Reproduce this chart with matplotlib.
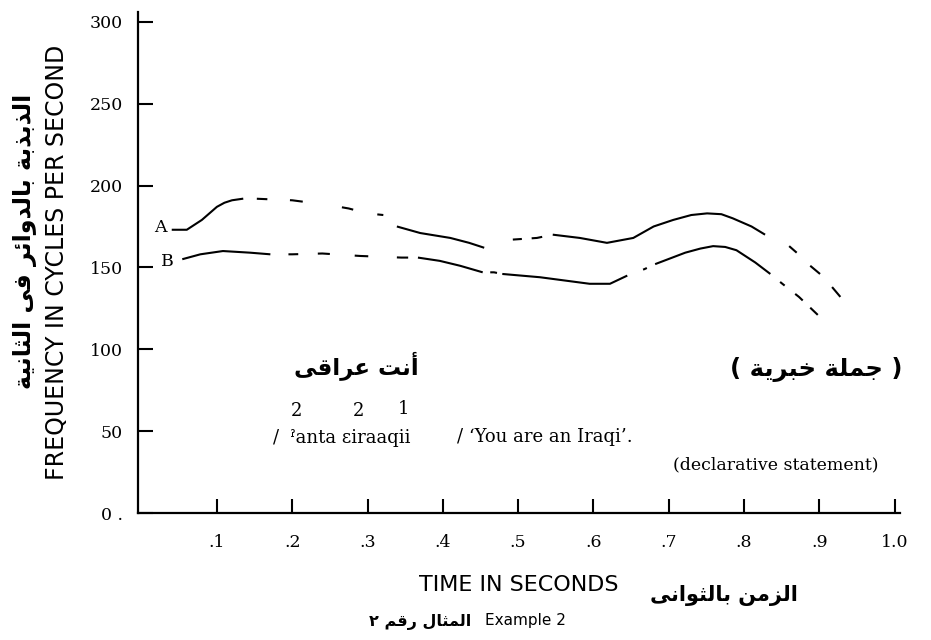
import numpy as np
import matplotlib
matplotlib.use("Agg")
import matplotlib.pyplot as plt

# ---- data ----
# curve A (upper)
a_time = [0.040, 0.060, 0.080, 0.100, 0.110, 0.120, 0.135, 0.150, 0.200, 0.250,
          0.275, 0.300, 0.321, 0.339, 0.370, 0.410, 0.435, 0.455, 0.493, 0.525,
          0.546, 0.582, 0.618, 0.653, 0.680, 0.706, 0.730, 0.751, 0.770, 0.785,
          0.810, 0.828, 0.860, 0.870, 0.888, 0.901, 0.917, 0.928]
a_freq = [173, 173, 179, 187, 189.5, 191, 192, 192, 191, 188,
          186, 183, 182, 175, 171, 168, 165, 162, 167, 168,
          170, 168, 165, 168, 175, 179, 182, 183, 182.5, 180,
          175, 170, 163, 159, 151, 146, 138, 132]
# stretches of A where the pen touches the paper
a_ink = [(0.040, 0.135), (0.153, 0.167), (0.197, 0.214), (0.266, 0.281),
         (0.313, 0.321), (0.339, 0.455), (0.493, 0.505), (0.518, 0.532),
         (0.546, 0.828), (0.860, 0.870), (0.888, 0.901), (0.917, 0.928)]

# curve B (lower)
b_time = [0.054, 0.078, 0.108, 0.144, 0.171, 0.200, 0.240, 0.290, 0.345, 0.367,
          0.396, 0.423, 0.453, 0.468, 0.479, 0.529, 0.595, 0.622, 0.645, 0.668,
          0.682, 0.722, 0.742, 0.759, 0.775, 0.790, 0.815, 0.835, 0.851, 0.873,
          0.898]
b_freq = [155, 158, 160, 159, 158, 158, 158.5, 157, 156, 156,
          154, 151, 147, 147, 146, 144, 140, 140, 145, 149,
          152, 159, 161.5, 163, 162.5, 160.5, 153, 146, 140, 132,
          121]
b_ink = [(0.054, 0.171), (0.195, 0.208), (0.234, 0.250), (0.283, 0.301),
         (0.339, 0.354), (0.367, 0.453), (0.463, 0.472), (0.479, 0.645),
         (0.666, 0.671), (0.682, 0.835), (0.848, 0.854), (0.868, 0.878),
         (0.888, 0.898)]

y_ticks = [0, 50, 100, 150, 200, 250, 300]
y_labels = ["0 .", "50", "100", "150", "200", "250", "300"]
x_ticks = [0.1, 0.2, 0.3, 0.4, 0.5, 0.6, 0.7, 0.8, 0.9, 1.0]
x_labels = [".1", ".2", ".3", ".4", ".5", ".6", ".7", ".8", ".9", "1.0"]

# ---- arabic: matplotlib does no shaping, so pick contextual forms by hand ----
DUAL = set("بتثجحخسشصضطظعغفقكلمنهيىئ")
RIGHT = set("اأإآدذرزوؤة")
BASE = {"ا": 0xFE8D, "أ": 0xFE83, "ب": 0xFE8F, "ة": 0xFE93, "ت": 0xFE95,
        "ث": 0xFE99, "ج": 0xFE9D, "خ": 0xFEA5, "د": 0xFEA9, "ذ": 0xFEAB,
        "ر": 0xFEAD, "ز": 0xFEAF, "ع": 0xFEC9, "ف": 0xFED1, "ق": 0xFED5,
        "ل": 0xFEDD, "م": 0xFEE1, "ن": 0xFEE5, "و": 0xFEED, "ى": 0xFEEF,
        "ي": 0xFEF1, "ئ": 0xFE89}


def shape(s):
    out = []
    for i, ch in enumerate(s):
        if ch not in BASE:
            out.append(ch)
            continue
        prev = s[i - 1] if i > 0 else ""
        nxt = s[i + 1] if i + 1 < len(s) else ""
        jp = prev in DUAL
        jn = ch in DUAL and (nxt in DUAL or nxt in RIGHT)
        off = (1 if jp else 0) + (2 if jn else 0)
        out.append(chr(BASE[ch] + off))
    return "".join(reversed(out))


ar_sentence = "أنت عراقى"
ar_type = "جملة خبرية"
ar_ylabel = "الذبذبة بالدوائر فى الثانية"
ar_xlabel = "الزمن بالثوانى"
ar_caption = "المثال رقم ٢"

W, H = 931, 640
fig = plt.figure(figsize=(W / 100, H / 100), dpi=100)
ax = fig.add_axes([138 / W, 1 - 513 / H, (900 - 138) / W, (513 - 12) / H])
ax.set_xlim(-0.0048, 1.0072)
ax.set_ylim(0, 306)
for s in ["top", "right"]:
    ax.spines[s].set_visible(False)
for s in ["left", "bottom"]:
    ax.spines[s].set_linewidth(1.6)

serif = ["DejaVu Serif"]
sans = ["DejaVu Sans"]

ax.set_yticks(y_ticks)
ax.set_yticklabels(y_labels, fontfamily=serif, fontsize=12.5)
ax.set_xticks(x_ticks)
ax.set_xticklabels(x_labels, fontfamily=serif, fontsize=12.5)
ax.tick_params(axis="y", direction="in", length=11, width=1.5, pad=11)
ax.tick_params(axis="x", direction="in", length=10, width=1.5, pad=15)


def draw_curve(t, v, pieces):
    t = np.asarray(t, float)
    v = np.asarray(v, float)
    for t0, t1 in pieces:
        inner = (t > t0) & (t < t1)
        xs = np.concatenate([[t0], t[inner], [t1]])
        ys = np.concatenate([[np.interp(t0, t, v)], v[inner], [np.interp(t1, t, v)]])
        ax.plot(xs, ys, color="black", lw=1.5, solid_capstyle="butt",
                solid_joinstyle="round", clip_on=False)


draw_curve(a_time, a_freq, a_ink)
draw_curve(b_time, b_freq, b_ink)

ax.text(0.0244, 174.5, "A", fontfamily=serif, fontsize=12.5, ha="center", va="center")
ax.text(0.0338, 153.5, "B", fontfamily=serif, fontsize=12.5, ha="center", va="center")


def ftext(x, y, s, **kw):
    fig.text(x / W, 1 - y / H, s, ha=kw.pop("ha", "center"), va=kw.pop("va", "center"), **kw)


ar = dict(fontfamily=sans, fontweight="bold")
ftext(356, 366, shape(ar_sentence), fontsize=16.5, **ar)
ftext(816, 370, "( " + shape(ar_type) + " )", fontsize=17.5, **ar)

ftext(297, 411, "2", fontfamily=serif, fontsize=13)
ftext(358, 411, "2", fontfamily=serif, fontsize=13)
ftext(403, 409, "1", fontfamily=serif, fontsize=13)
ftext(273, 438, "/  ˀanta εiraaqii", fontfamily=serif, fontsize=13, ha="left")
ftext(457, 437, "/ ‘You are an Iraqi’.", fontfamily=serif, fontsize=13, ha="left")
ftext(673, 465, "(declarative statement)", fontfamily=serif, fontsize=12.5, ha="left")

ftext(57, 262, "FREQUENCY IN CYCLES PER SECOND", fontfamily=sans, fontsize=17,
      rotation=90)
ftext(25, 241, shape(ar_ylabel), fontsize=17, rotation=90, **ar)

ftext(519, 585, "TIME IN SECONDS", fontfamily=sans, fontsize=16)
ftext(724, 596, shape(ar_xlabel), fontsize=15, **ar)
ftext(525, 621, "Example 2", fontfamily=sans, fontsize=11)
ftext(420, 622, shape(ar_caption), fontsize=11.5, **ar)

fig.savefig("out.png", dpi=100, facecolor="white")
